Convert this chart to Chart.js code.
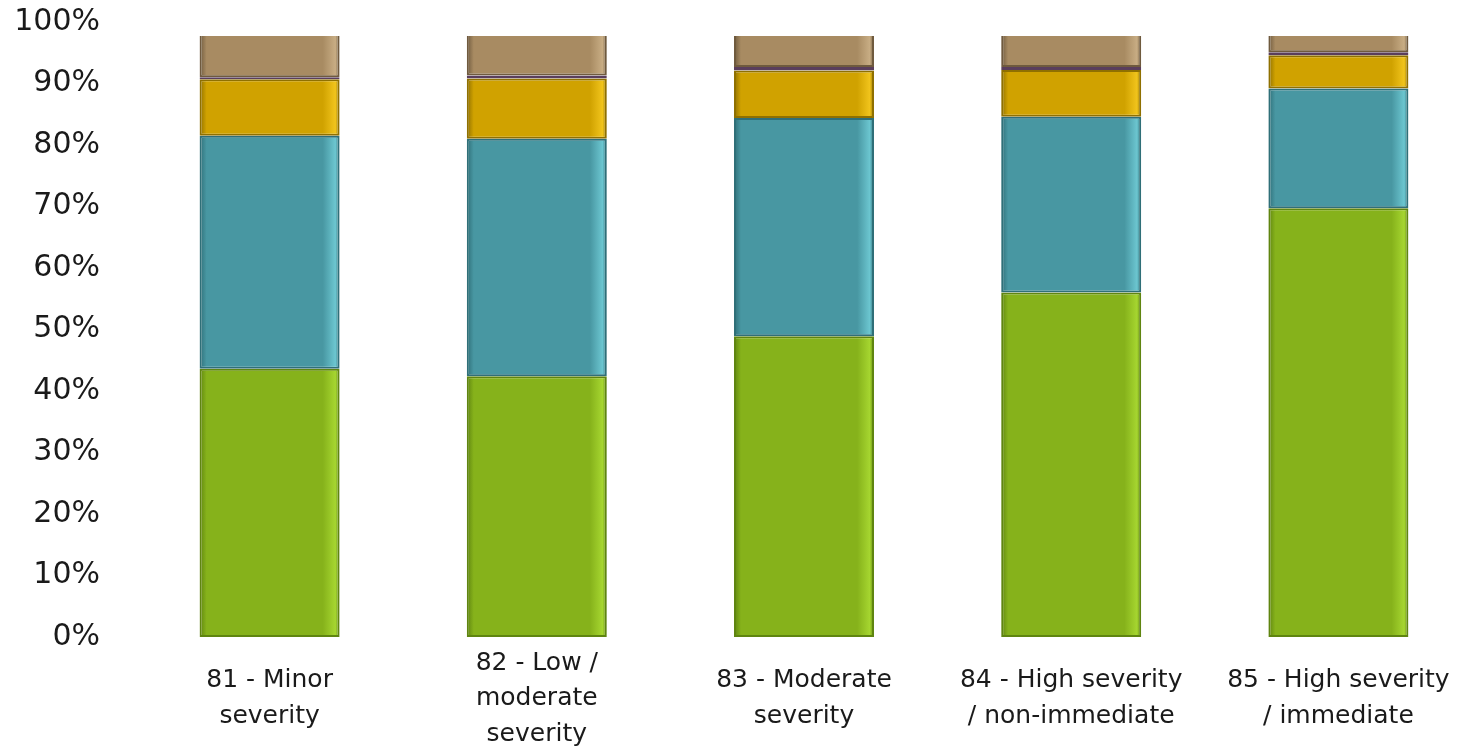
<!DOCTYPE html>
<html>
<head>
<meta charset="utf-8">
<script src="https://cdn.jsdelivr.net/npm/chart.js@4/dist/chart.umd.min.js"></script>
<style>
    html, body { margin: 0; padding: 0; background: #fff; }
    #wrap { width: 1472px; height: 748px; }
</style>
</head>
<body>
<div id="wrap"><canvas id="chart"></canvas></div>
<script>
// Categories (multi-line labels)
const categories = [
    ["81 - Minor", "severity"],
    ["82 - Low /", "moderate", "severity"],
    ["83 - Moderate", "severity"],
    ["84 - High severity", "/ non-immediate"],
    ["85 - High severity", "/ immediate"]
];

// Stacked shares in %, bottom to top
const greenValues  = [43.6, 42.4, 48.9, 56.0, 69.7];
const tealValues   = [37.9, 38.6, 35.5, 28.6, 19.5];
const yellowValues = [9.2, 9.8, 7.7, 7.6, 5.4];
const purpleValues = [0.3, 0.5, 0.6, 0.5, 0.5];
const tanValues    = [9.0, 8.7, 7.3, 7.3, 4.9];

const yTicks = [0, 10, 20, 30, 40, 50, 60, 70, 80, 90, 100];

const BAR_PCT = 0.524;

// horizontal gradient across each bar, gives a bit of the bevel look
function barFill(light, mid, dark) {
    return function (ctx) {
        const chart = ctx.chart;
        const xs = chart.scales.x;
        if (!chart.chartArea || !xs || ctx.dataIndex === undefined) return mid;
        const w = (chart.chartArea.width / categories.length) * BAR_PCT;
        const cx = xs.getPixelForValue(ctx.dataIndex);
        const x0 = cx - w / 2;
        const g = chart.ctx.createLinearGradient(x0, 0, x0 + w, 0);
        g.addColorStop(0, dark);
        g.addColorStop(0.05, mid);
        g.addColorStop(0.88, mid);
        g.addColorStop(0.97, light);
        g.addColorStop(1, dark);
        return g;
    };
}

function makeSet(label, data, light, mid, dark) {
    return {
        label: label,
        data: data,
        backgroundColor: barFill(light, mid, dark),
        borderColor: dark,
        borderWidth: 2,
        borderSkipped: false,
        barPercentage: BAR_PCT,
        categoryPercentage: 1,
        clip: { left: false, top: -14, right: false, bottom: false }
    };
}

new Chart(document.getElementById('chart'), {
    type: 'bar',
    data: {
        labels: categories,
        datasets: [
            makeSet('Series 1', greenValues, '#a6d630', '#86b21b', '#5f8510'),
            makeSet('Series 2', tealValues, '#6cc6d0', '#4897a2', '#2f6f78'),
            makeSet('Series 3', yellowValues, '#f1c41c', '#d0a200', '#8f7000'),
            makeSet('Series 4', purpleValues, '#a07aa2', '#7d5b80', '#5a3e5c'),
            makeSet('Series 5', tanValues, '#c8ad84', '#a88b62', '#6f5a3e')
        ]
    },
    options: {
        responsive: true,
        maintainAspectRatio: false,
        animation: false,
        layout: { padding: { top: 22, right: 0, bottom: 0, left: 0 } },
        plugins: {
            legend: { display: false },
            tooltip: { enabled: false }
        },
        scales: {
            x: {
                stacked: true,
                afterFit: function (scale) {
                    scale.height = 111;
                    scale.paddingLeft = 0;
                    scale.paddingRight = 0;
                },
                grid: { display: false, drawTicks: false },
                border: { display: false },
                ticks: {
                    color: '#1a1a1a',
                    font: { family: 'DejaVu Sans', size: 25, lineHeight: 1.42 },
                    padding: 26,
                    maxRotation: 0,
                    autoSkip: false,
                    crossAlign: 'center'
                }
            },
            y: {
                stacked: true,
                min: 0,
                max: 100,
                afterFit: function (scale) {
                    scale.width = 136;
                    // tick padding should only push labels sideways
                    scale.paddingTop = 0;
                    scale.paddingBottom = 0;
                },
                afterBuildTicks: function (scale) {
                    scale.ticks = yTicks.map(v => ({ value: v }));
                },
                grid: { display: false, drawTicks: false },
                border: { display: false },
                ticks: {
                    color: '#1a1a1a',
                    font: { family: 'DejaVu Sans', size: 30 },
                    padding: 36,
                    callback: v => v + '%'
                }
            }
        }
    }
});
</script>
</body>
</html>
